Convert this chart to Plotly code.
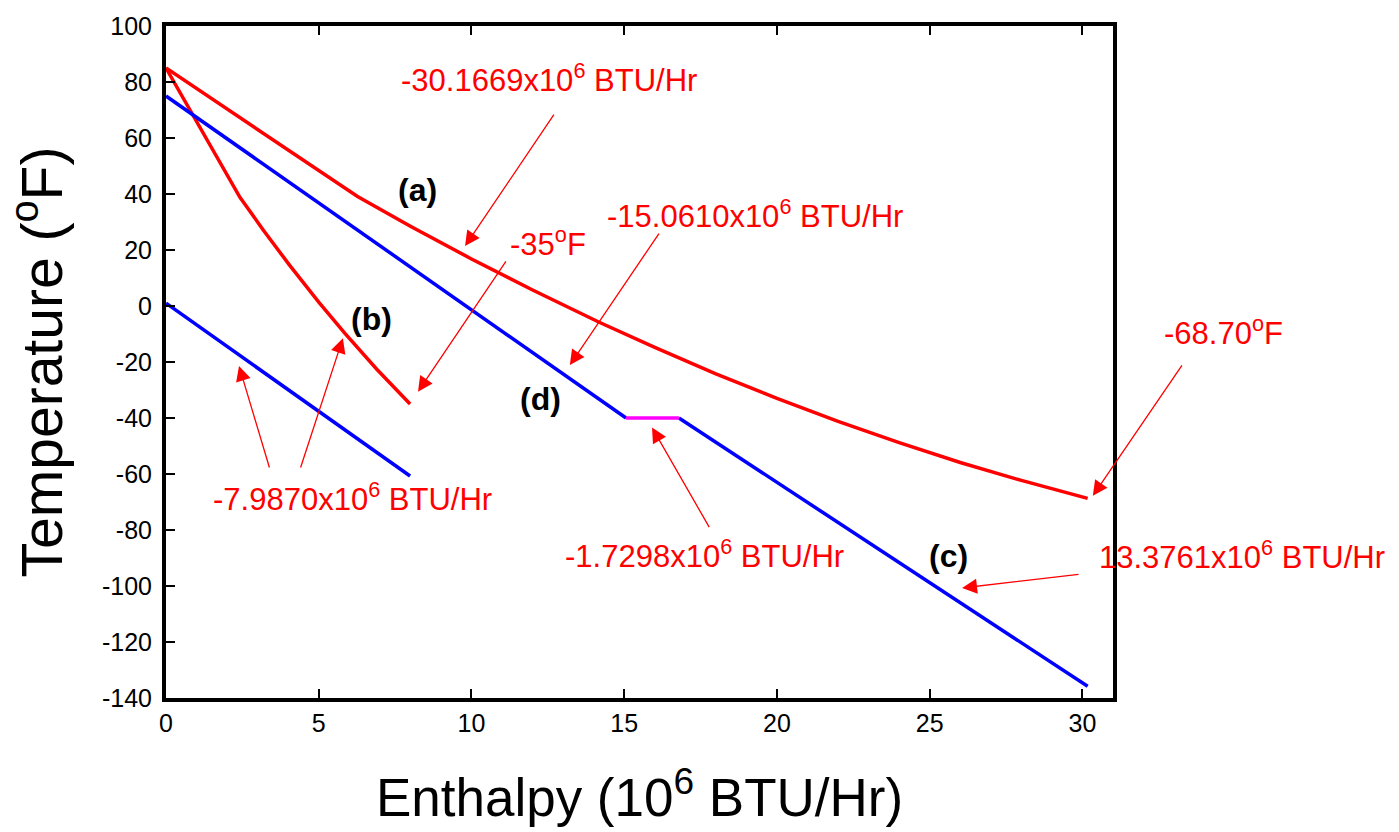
import plotly.graph_objects as go

# ---------------- data ----------------
# (a) hot stream composite
a_x = [0.0, 6.27, 8.0, 10.0, 12.0, 14.18, 16.0, 18.0, 20.0, 22.0, 24.0, 26.0, 28.0, 30.17]
a_y = [85.0, 39.1, 28.5, 16.8, 5.7, -5.8, -14.8, -24.2, -33.0, -41.2, -48.8, -55.9, -62.3, -68.7]
# (b)
b_x = [0.0, 2.42, 3.2, 4.05, 5.0, 5.85, 6.9, 7.99]
b_y = [85.0, 38.8, 26.9, 14.5, 1.4, -9.7, -22.6, -35.0]
# (d) cold stream upper part, before phase change
d_x = [0.0, 15.06]
d_y = [75.0, -40.0]
# phase change segment (magenta)
pc_x = [15.06, 16.79]
pc_y = [-40.0, -40.0]
# (c) after phase change
c_x = [16.79, 30.17]
c_y = [-40.0, -135.8]
# lower blue stream
e_x = [0.0, 7.99]
e_y = [1.0, -60.7]

x_ticks = [0, 5, 10, 15, 20, 25, 30]
y_ticks = [-140, -120, -100, -80, -60, -40, -20, 0, 20, 40, 60, 80, 100]

X_MAX = 31.0

# annotation texts: (text, x, y)  (data units)
red_texts = [
    ("-30.1669x10<sup>6</sup> BTU/Hr", 12.54, 81.6),
    ("-15.0610x10<sup>6</sup> BTU/Hr", 19.28, 33.0),
    ("-35<sup>o</sup>F", 12.5, 23.0),
    ("-68.70<sup>o</sup>F", 34.63, -9.0),
    ("-7.9870x10<sup>6</sup> BTU/Hr", 6.09, -68.2),
    ("-1.7298x10<sup>6</sup> BTU/Hr", 17.64, -88.6),
    ("13.3761x10<sup>6</sup> BTU/Hr", 35.22, -88.9),
]
black_labels = [
    ("(a)", 8.22, 41.6),
    ("(b)", 6.74, -4.6),
    ("(d)", 12.27, -33.3),
    ("(c)", 25.6, -89.3),
]
# arrows: (tail_x, tail_y, head_x, head_y)
arrows = [
    (12.73, 68.85, 9.79, 21.4),
    (16.17, 26.4, 13.22, -21.1),
    (11.16, 16.5, 8.25, -30.6),
    (33.29, -20.7, 30.34, -67.8),
    (3.40, -58.2, 2.39, -21.4),
    (4.39, -58.2, 5.79, -11.5),
    (17.81, -79.5, 15.91, -43.4),
    (29.92, -95.8, 26.06, -100.7),
]

FONT = "Liberation Sans, Arial, sans-serif"
LW = 3.5

fig = go.Figure()
def add_line(x, y, color):
    fig.add_trace(go.Scatter(x=x, y=y, mode="lines",
                             line=dict(color=color, width=LW),
                             showlegend=False, hoverinfo="skip"))

add_line(a_x, a_y, "#ff0000")
add_line(b_x, b_y, "#ff0000")
add_line(d_x, d_y, "#0000ff")
add_line(c_x, c_y, "#0000ff")
add_line(e_x, e_y, "#0000ff")
add_line(pc_x, pc_y, "#ff00ff")

annotations = []
for t, x, y in red_texts:
    if x > X_MAX:
        annotations.append(dict(x=x / X_MAX, y=y, xref="paper", yref="y", text=t, showarrow=False,
                                font=dict(family=FONT, size=31, color="#ff0000"),
                                xanchor="center", yanchor="middle"))
    else:
        annotations.append(dict(x=x, y=y, xref="x", yref="y", text=t, showarrow=False,
                                font=dict(family=FONT, size=31, color="#ff0000"),
                                xanchor="center", yanchor="middle"))
for t, x, y in black_labels:
    annotations.append(dict(x=x, y=y, xref="x", yref="y", text="<b>" + t + "</b>",
                            showarrow=False,
                            font=dict(family=FONT, size=32, color="#000000"),
                            xanchor="center", yanchor="middle"))
for tx, ty, hx, hy in arrows:
    annotations.append(dict(x=hx, y=hy, ax=tx, ay=ty, xref="x", yref="y",
                            axref="x", ayref="y", text="", showarrow=True,
                            arrowhead=2, arrowsize=2.3, arrowwidth=1.3,
                            arrowcolor="#ff0000", standoff=0))

fig.update_layout(
    width=1399, height=832,
    margin=dict(l=166, r=286, t=20, b=134),
    paper_bgcolor="white", plot_bgcolor="white",
    font=dict(family=FONT, color="black"),
    annotations=annotations,
    xaxis=dict(range=[0, X_MAX], tickvals=x_ticks, ticktext=[str(v) for v in x_ticks],
               ticks="inside", ticklen=9, tickwidth=2, tickcolor="black",
               showline=True, linewidth=4, linecolor="black", mirror="ticks",
               showgrid=False, zeroline=False,
               tickfont=dict(family=FONT, size=25, color="black"),
               title=dict(text="Enthalpy (10<sup>6</sup> BTU/Hr)",
                          font=dict(family=FONT, size=53, color="black"), standoff=44)),
    yaxis=dict(range=[-140, 100], tickvals=y_ticks, ticktext=[str(v) for v in y_ticks],
               ticks="inside", ticklen=9, tickwidth=2, tickcolor="black",
               showline=True, linewidth=4, linecolor="black", mirror=True,
               showgrid=False, zeroline=False, ticklabelstandoff=5,
               tickfont=dict(family=FONT, size=25, color="black"),
               title=dict(text="Temperature (<sup>o</sup>F)",
                          font=dict(family=FONT, size=57, color="black"), standoff=22)),
)

fig.write_html("out.html")
